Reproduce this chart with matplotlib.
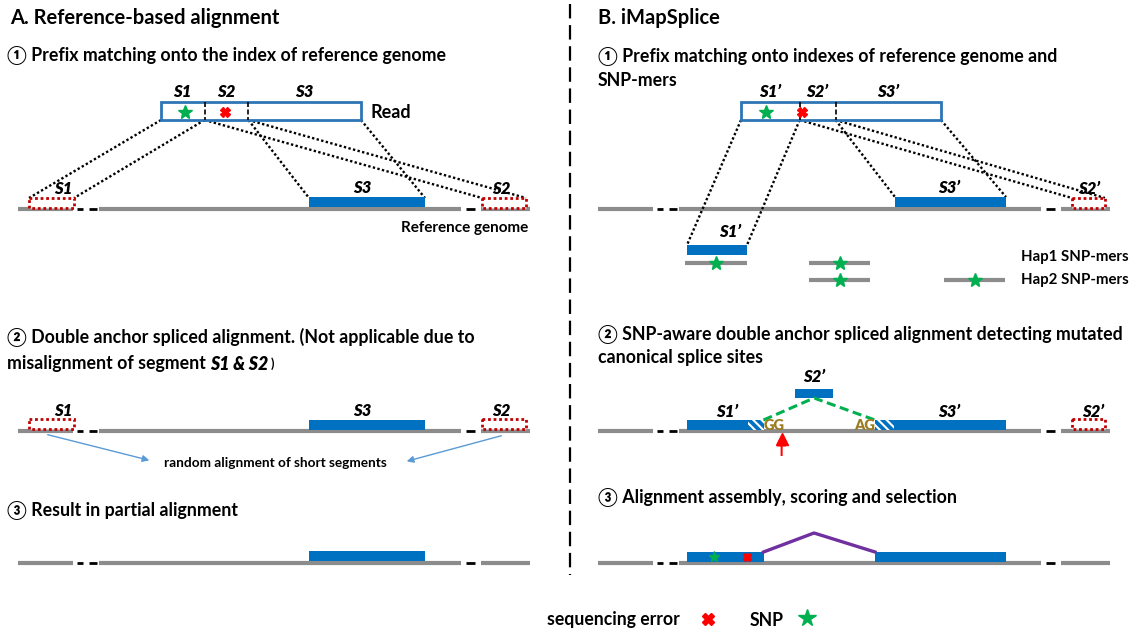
import matplotlib.pyplot as plt
from matplotlib.patches import Rectangle

plt.rcParams['font.family'] = ['Lato', 'Noto Sans CJK SC', 'DejaVu Sans']
plt.rcParams['hatch.linewidth'] = 1.5

BLUE = '#0070C0'
READ_EDGE = '#2E75B6'
GREY = '#8C8C8C'
DARKRED = '#C00000'
GREEN = '#00B050'
PURPLE = '#7030A0'
GOLD = '#9C7D22'
ARROW_BLUE = '#5B9BD5'

# right panel is drawn as the left panel shifted by this many pixels
OFFSET = 580

# genome pieces and the black gap dashes (left panel x)
genome_segs = [(18, 73), (99, 461), (481, 530)]
genome_gaps = [(77, 83), (89, 97), (466, 475)]

# read and its segments
read_span = (161, 361)
cuts_ref = [204.6, 248.4]
cuts_snp = [219.7, 255.6]
seg_names_ref = ['S1', 'S2', 'S3']
seg_names_snp = ['S1\u2019', 'S2\u2019', 'S3\u2019']

# where the segments land on the genome (left panel x)
s1_box = (29, 74)
s2_box = (482, 526)
s3_bar = (309, 425)
s1p_bar = (107, 167)       # S1' on the SNP-mer index
s2p_box = (492, 525)
s3p_bar = (315, 426)
s2p_top = (214.6, 253)     # S2' lifted above the intron
junction = (183.5, 295)    # donor / acceptor ends of the exons
apex_x = 234
hatch_w = 16

# SNP-mers: (x0, x1, row)
hap_rows = [(105, 167, 263), (229, 290, 263), (229, 290, 280), (364, 425, 280)]
hap_labels = ['Hap1 SNP-mers', 'Hap2 SNP-mers']

H = 12.8     # step heading size

fig = plt.figure(figsize=(11.42, 6.32), dpi=100)
ax = fig.add_axes([0, 0, 1, 1])
ax.set_xlim(0, 1142)
ax.set_ylim(632, 0)
ax.axis('off')


def genome(y, off):
    for a, b in genome_segs:
        ax.plot([a + off, b + off], [y, y], color=GREY, lw=3, solid_capstyle='butt', zorder=1)
    for a, b in genome_gaps:
        ax.plot([a + off, b + off], [y, y], color='black', lw=2, solid_capstyle='butt', zorder=1)


def bar(x0, x1, ytop, h=10, color=BLUE):
    ax.add_patch(Rectangle((x0, ytop), x1 - x0, h, facecolor=color, edgecolor='none', zorder=3))


def red_box(x0, x1, ytop, h=10):
    ax.add_patch(Rectangle((x0, ytop), x1 - x0, h, facecolor='white', edgecolor=DARKRED,
                           lw=2, linestyle=(0, (1, 1)), zorder=4))


def seg_label(x, y, s, size=12):
    ax.text(x, y, s, fontsize=size, fontweight='heavy', fontstyle='italic',
            ha='center', va='center', zorder=5)


def star(x, y, ms=10):
    ax.plot(x, y, marker='*', color=GREEN, ms=ms, mec=GREEN, zorder=6)


def err(x, y, ms=7):
    ax.plot(x, y, marker='X', color='red', ms=ms, mec='red', zorder=6)


def read_box(off, cuts, names, y0=102, y1=120):
    x0, x1 = read_span
    ax.add_patch(Rectangle((x0 + off, y0), x1 - x0, y1 - y0, facecolor='white',
                           edgecolor=READ_EDGE, lw=2, zorder=3))
    for c in cuts:
        ax.plot([c + off, c + off], [y0, y1], color='black', lw=1.2, ls=(0, (3, 1.5)), zorder=4)
    edges = [x0] + cuts + [x1]
    for i, n in enumerate(names):
        seg_label((edges[i] + edges[i + 1]) / 2 + off, 92, n)


def dotted(x0, y0, x1, y1):
    ax.plot([x0, x1], [y0, y1], color='black', lw=1.7, ls=(0, (1, 1)), zorder=2)


def heading(x, y, s, size=H):
    return ax.text(x, y, s, fontsize=size, fontweight='bold', ha='left', va='center')


def hatched(x0, x1, ytop, h=10):
    ax.add_patch(Rectangle((x0, ytop), x1 - x0, h, facecolor=BLUE, edgecolor='white',
                           lw=0, hatch='\\' * 4, zorder=4))


# ---------------- divider ----------------
ax.plot([570, 570], [4, 575], color='black', lw=1.6, dashes=(6.5, 3))

# ---------------- panel A ----------------
heading(10, 18, 'A. Reference-based alignment', 14.5)
heading(7, 55, '\u2460 Prefix matching onto the index of reference genome')

read_box(0, cuts_ref, seg_names_ref)
star(185, 112)
err(225, 112)
ax.text(370, 112, 'Read', fontsize=13, fontweight='bold', va='center')

genome(209, 0)
red_box(*s1_box, 198)
red_box(*s2_box, 198)
bar(*s3_bar, 197)
seg_label(63, 189, 'S1')
seg_label(362, 188, 'S3')
seg_label(501, 189, 'S2')
ax.text(528, 228, 'Reference genome', fontsize=11, fontweight='bold', ha='right', va='center')

edges = [read_span[0]] + cuts_ref + [read_span[1]]
for (a, b), (t0, t1) in zip(zip(edges[:-1], edges[1:]), [s1_box, s2_box, s3_bar]):
    dotted(a, 120, t0, 198)
    dotted(b, 120, t1, 198)

heading(7, 337, '\u2461 Double anchor spliced alignment. (Not applicable due to')
t = heading(7, 364, 'misalignment of segment ')
t2 = ax.annotate('S1 & S2', xy=(1, 0.5), xycoords=t, fontsize=H, fontweight='heavy',
                 fontstyle='italic', va='center', ha='left')
ax.annotate(' )', xy=(1, 0.5), xycoords=t2, fontsize=9, fontweight='bold', va='center', ha='left')

genome(431, 0)
red_box(*s1_box, 419)
red_box(*s2_box, 419)
bar(*s3_bar, 420)
seg_label(63, 411, 'S1')
seg_label(362, 411, 'S3')
seg_label(501, 411, 'S2')
ax.annotate('', xy=(152, 461), xytext=(45, 434),
            arrowprops=dict(arrowstyle='-|>', color=ARROW_BLUE, lw=1, mutation_scale=10))
ax.annotate('', xy=(404, 462), xytext=(504, 435),
            arrowprops=dict(arrowstyle='-|>', color=ARROW_BLUE, lw=1, mutation_scale=10))
ax.text(275, 463, 'random alignment of short segments', fontsize=9.8, fontweight='bold',
        ha='center', va='center')

heading(7, 510, '\u2462 Result in partial alignment')
genome(563, 0)
bar(*s3_bar, 551)

# ---------------- panel B ----------------
o = OFFSET
heading(598, 18, 'B. iMapSplice', 14.5)
heading(598, 56, '\u2460 Prefix matching onto indexes of reference genome and')
heading(598, 80, 'SNP-mers')

read_box(o, cuts_snp, seg_names_snp)
star(186 + o, 112)
err(222 + o, 112)

genome(209, o)
bar(s3p_bar[0] + o, s3p_bar[1] + o, 197)
red_box(s2p_box[0] + o, s2p_box[1] + o, 198)
seg_label(369 + o, 188, 'S3\u2019')
seg_label(509 + o, 189, 'S2\u2019')

bar(s1p_bar[0] + o, s1p_bar[1] + o, 245)
seg_label(150 + o, 232, 'S1\u2019')
for x0, x1, y in hap_rows:
    ax.plot([x0 + o, x1 + o], [y, y], color=GREY, lw=3, solid_capstyle='butt', zorder=1)
    star((x0 + x1) / 2 + o, y)
ax.text(1021, 257, hap_labels[0], fontsize=10.8, fontweight='bold', va='center')
ax.text(1021, 280, hap_labels[1], fontsize=10.8, fontweight='bold', va='center')

edges = [read_span[0]] + cuts_snp + [read_span[1]]
targets = [(s1p_bar, 245), (s2p_box, 198), (s3p_bar, 197)]
for (a, b), ((t0, t1), ty) in zip(zip(edges[:-1], edges[1:]), targets):
    dotted(a + o, 120, t0 + o, ty)
    dotted(b + o, 120, t1 + o, ty)

heading(598, 334, '\u2461 SNP-aware double anchor spliced alignment detecting mutated')
heading(598, 357, 'canonical splice sites')

genome(431, o)
jl, jr = junction[0] + o, junction[1] + o
bar(s1p_bar[0] + o, jl - hatch_w, 420)
hatched(jl - hatch_w, jl, 420)
hatched(jr, jr + hatch_w + 3, 420)
bar(jr + hatch_w + 3, s3p_bar[1] + o, 420)
bar(s2p_top[0] + o, s2p_top[1] + o, 389, h=9)
seg_label(apex_x + o, 377, 'S2\u2019')
ax.plot([jl, apex_x + o, jr], [420, 398, 420], color=GREEN, lw=2.2, dashes=(3, 1.5), zorder=5)
ax.text(jl + 10.5, 426, 'GG', fontsize=10.5, fontweight='heavy', color=GOLD, ha='center', va='center', zorder=6)
ax.text(jr - 10.5, 426, 'AG', fontsize=10.5, fontweight='heavy', color=GOLD, ha='center', va='center', zorder=6)
ax.plot(781.5, 439, marker='^', color='red', ms=8, zorder=6)
ax.text(781.5, 452, 'T', fontsize=11, fontweight='bold', color='red', ha='center', va='center')
red_box(s2p_box[0] + o, s2p_box[1] + o, 419)
seg_label(147 + o, 412, 'S1\u2019')
seg_label(369 + o, 412, 'S3\u2019')
seg_label(513 + o, 412, 'S2\u2019')

heading(598, 497, '\u2462 Alignment assembly, scoring and selection')
genome(563, o)
bar(s1p_bar[0] + o, jl, 552)
bar(jr, s3p_bar[1] + o, 552)
ax.plot([jl, apex_x + o, jr], [552, 533, 552], color=PURPLE, lw=2.4, zorder=5)
star(134 + o, 557, ms=8)
err(167 + o, 557, ms=6)

# ---------------- legend ----------------
ax.text(547, 620, 'sequencing error', fontsize=12.7, fontweight='bold', va='center')
err(708, 619, ms=9)
ax.text(750, 620, 'SNP', fontsize=12.7, fontweight='bold', va='center')
star(807, 618, ms=13)

fig.savefig('out.png', dpi=100)
